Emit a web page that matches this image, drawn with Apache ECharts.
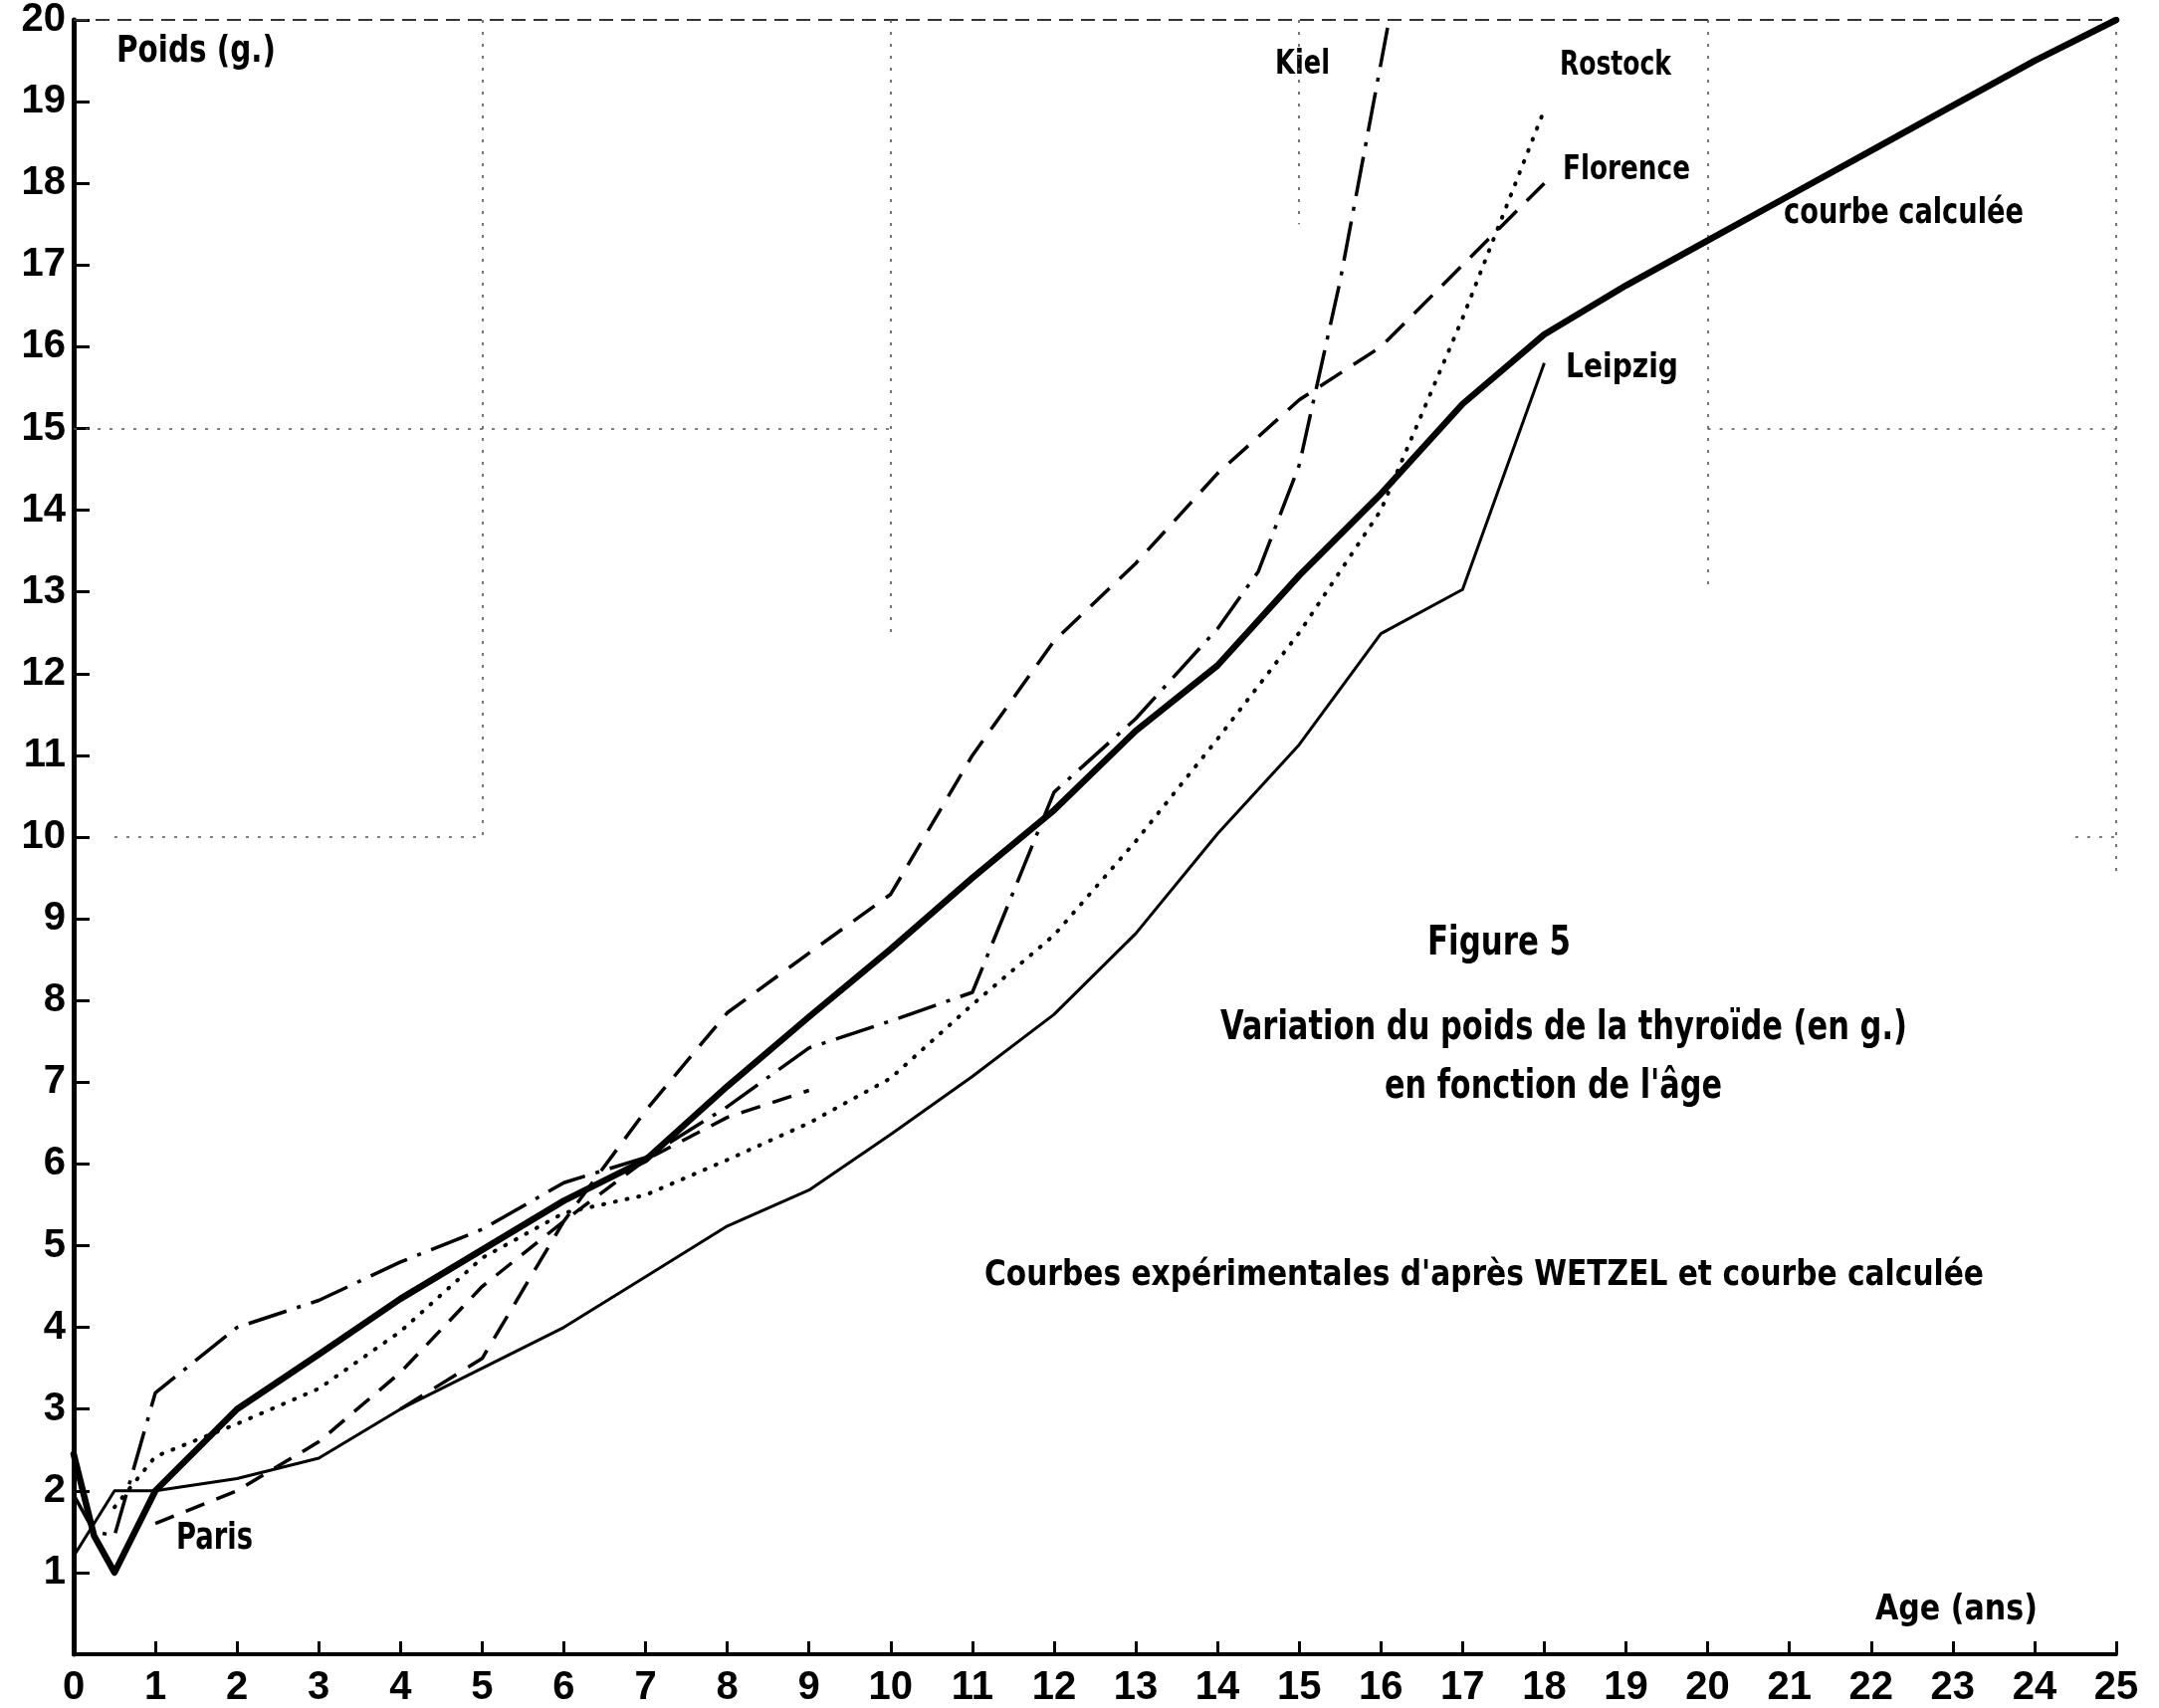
<!DOCTYPE html>
<html><head><meta charset="utf-8">
<script src="https://cdn.jsdelivr.net/npm/echarts@6/dist/echarts.min.js"></script>
<style>html,body{margin:0;padding:0;background:#fff}#c{width:2169px;height:1716px}</style>
</head><body><div id="c"></div>
<script>
// ---------- DATA ----------
const ageTickLabels = [0,1,2,3,4,5,6,7,8,9,10,11,12,13,14,15,16,17,18,19,20,21,22,23,24,25];
const weightTickLabels = [1,2,3,4,5,6,7,8,9,10,11,12,13,14,15,16,17,18,19,20];

const calcAge    = [0,0.25,0.5,1,2,3,4,5,6,7,8,9,10,11,12,13,14,15,16,17,18,19,20,21,22,23,24,25];
const calcWeight = [2.45,1.45,1.0,2.0,3.0,3.67,4.35,4.95,5.55,6.05,6.95,7.8,8.63,9.5,10.33,11.3,12.1,13.2,14.2,15.3,16.15,16.75,17.3,17.85,18.4,18.95,19.5,20.0];

const leipzigAge    = [0,0.5,1,2,3,4,5,6,7,8,9,10,11,12,13,14,15,16,17,18];
const leipzigWeight = [1.2,2.0,2.0,2.15,2.4,3.0,3.5,4.0,4.62,5.24,5.68,6.36,7.07,7.83,8.82,10.04,11.13,12.49,13.03,15.8];

const kielAge    = [0,0.25,0.5,1,2,3,4,5,6,7,8,9,10,11,12,13,14,14.5,15,15.5,16.1];
const kielWeight = [1.95,1.5,1.45,3.2,4.0,4.33,4.8,5.2,5.77,6.08,6.7,7.42,7.75,8.1,10.55,11.45,12.55,13.25,14.55,16.8,20.0];

const rostockAge    = [0.5,1,2,3,4,5,6,7,8,9,10,11,12,13,14,15,16,17,18];
const rostockWeight = [1.8,2.42,2.82,3.25,3.95,4.85,5.4,5.62,6.05,6.5,7.05,7.95,8.8,9.95,11.2,12.5,14.0,16.35,18.9];

const florenceAge    = [4,5,6,7,8,9,10,11,12,13,14,15,16,17,18];
const florenceWeight = [3.0,3.62,5.3,6.65,7.85,8.58,9.3,11.0,12.4,13.35,14.45,15.35,16.0,17.0,18.0];

const parisAge    = [1,2,3,4,5,6,7,8,9];
const parisWeight = [1.6,2.0,2.6,3.45,4.5,5.3,6.05,6.57,6.9];

// faint graph-paper lines (age, weight) -> (age, weight)
const borderSegments = [[0,20,25,20]];
const gridSegments = [
  [5,20,5,10],[10,20,10,12.5],[15,20,15,17.5],[20,20,20,13],[25,20,25,9.5],
  [0,15,10,15],[20,15,25,15],[0.5,10,5,10],[24.5,10,25,10]
];

// ---------- helpers ----------
const zip = (xs, ys) => xs.map((x, i) => [x, ys[i]]);
const FONT = '"Liberation Sans Narrow","DejaVu Sans Condensed","Liberation Sans",sans-serif';

const texts = [
  {text:'Poids (g.)', left:117, cy:52, width:160, size:38},
  {text:'Kiel', left:1281, cy:65, width:55, size:34},
  {text:'Rostock', left:1567, cy:66, width:112, size:34},
  {text:'Florence', left:1570, cy:171, width:128, size:34},
  {text:'Leipzig', left:1573, cy:370, width:113, size:34},
  {text:'courbe calculée', left:1792, cy:215, width:241, size:36},
  {text:'Paris', left:177, cy:1546, width:77, size:38},
  {text:'Age (ans)', left:1884, cy:1618, width:163, size:36},
  {text:'Figure 5', left:1434, cy:949, width:144, size:40},
  {text:'Variation du poids de la thyroïde (en g.)', left:1226, cy:1034, width:690, size:40},
  {text:"en fonction de l'âge", left:1391, cy:1093, width:339, size:40},
  {text:"Courbes expérimentales d'après WETZEL et courbe calculée", left:989, cy:1282, width:1004, size:36}
];
const mctx = document.createElement('canvas').getContext('2d');
const graphics = texts.map(t => {
  mctx.font = 'bold ' + t.size + 'px ' + FONT;
  const w = mctx.measureText(t.text).width;
  return {
    type:'text', x:t.left, y:t.cy, scaleX: t.width / w, silent:true,
    style:{text:t.text, fontSize:t.size, fontWeight:'bold', fontFamily:FONT, fill:'#000',
           textAlign:'left', textVerticalAlign:'middle'}
  };
});

function lineSeries(name, xs, ys, width, type, cap) {
  return {
    name, type:'line', data: zip(xs, ys), showSymbol:false, symbol:'none',
    clip:true, animation:false, z: width > 4 ? 5 : 3,
    lineStyle:{color:'#000', width, type, cap: cap || 'butt', join:'round'}
  };
}
function segLines(segs, style) {
  return {
    type:'line', data:[], silent:true, animation:false,
    markLine:{silent:true, symbol:['none','none'], animation:false, label:{show:false},
      lineStyle: style,
      data: segs.map(s => [{coord:[s[0], s[1]]}, {coord:[s[2], s[3]]}])}
  };
}

const chart = echarts.init(document.getElementById('c'), null, {renderer:'canvas'});
chart.setOption({
  animation:false,
  backgroundColor:'#fff',
  grid:{left:74, right:43, top:17, bottom:53, containLabel:false},
  xAxis:{
    type:'value', min:0, max:25, interval:1,
    axisLine:{show:true, onZero:false, lineStyle:{color:'#000', width:4}},
    axisTick:{show:true, inside:true, length:13, lineStyle:{color:'#000', width:3}},
    axisLabel:{color:'#000', fontSize:40, fontWeight:'bold', fontFamily:'"Liberation Sans","DejaVu Sans",sans-serif', margin:14,
      formatter: v => ageTickLabels.includes(v) ? String(v) : ''},
    splitLine:{show:false}
  },
  yAxis:{
    type:'value', min:0, max:20, interval:1,
    axisLine:{show:true, onZero:false, lineStyle:{color:'#000', width:5}},
    axisTick:{show:true, inside:true, length:16, lineStyle:{color:'#000', width:3}},
    axisLabel:{color:'#000', fontSize:40, fontWeight:'bold', fontFamily:'"Liberation Sans","DejaVu Sans",sans-serif', margin:8,
      formatter: v => weightTickLabels.includes(v) ? String(v) : ''},
    splitLine:{show:false}
  },
  graphic: graphics,
  series:[
    segLines(borderSegments, {color:'#333', width:2, type:[14,8]}),
    segLines(gridSegments, {color:'#555', width:1.6, type:[3,9]}),
    lineSeries('courbe calculée', calcAge, calcWeight, 6.5, 'solid', 'round'),
    lineSeries('Leipzig', leipzigAge, leipzigWeight, 3, 'solid'),
    lineSeries('Kiel', kielAge, kielWeight, 3.5, [40,11,4,11]),
    lineSeries('Rostock', rostockAge, rostockWeight, 4, [1,11], 'round'),
    lineSeries('Florence', florenceAge, florenceWeight, 3.5, [26,14]),
    lineSeries('Paris', parisAge, parisWeight, 3.5, [20,13])
  ]
});
</script>
</body></html>
